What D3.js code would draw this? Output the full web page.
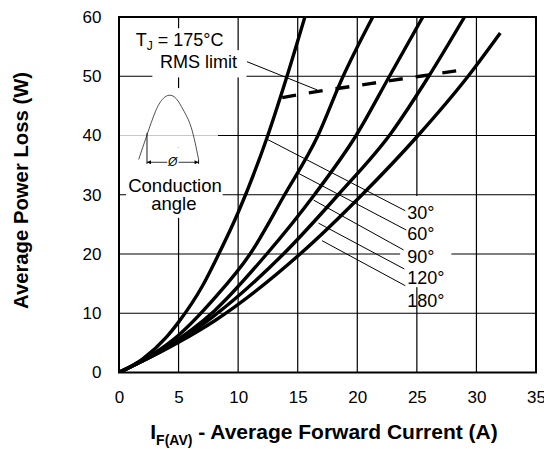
<!DOCTYPE html>
<html>
<head>
<meta charset="utf-8">
<script src="https://cdn.jsdelivr.net/npm/d3@7"></script>
<style>
  body { margin: 0; background: #fff; }
  svg { display: block; }
  text { font-family: "Liberation Sans", Arial, Helvetica, sans-serif; fill: #000; }
</style>
</head>
<body>
<svg width="544" height="449"></svg>
<script>
// ---- data ----
const xTicks = [0, 5, 10, 15, 20, 25, 30, 35];
const yTicks = [0, 10, 20, 30, 40, 50, 60];

const angleLabels = ["30°", "60°", "90°", "120°", "180°"];

const current30 = [0, 2, 4, 5, 7, 8.2, 10, 12.4, 14.1, 15.6];
const power30 = [0, 2.3, 6.0, 8.5, 14.6, 19.3, 27, 39.5, 50, 60];

const current60 = [0, 3, 5, 8, 11, 13.9, 16.7, 18.7, 21.3];
const power60 = [0, 3.3, 6.3, 12.5, 20, 30, 40, 49.5, 60];

const current90 = [0, 4, 8, 12.4, 16.4, 19.9, 22.7, 25.5];
const power90 = [0, 4.3, 10.4, 20, 30, 40, 50, 60];

const current120 = [0, 5, 8, 13.8, 18.4, 22.8, 26.0, 29.0];
const power120 = [0, 5.3, 9.6, 20, 30, 40.3, 50, 60];

const current180 = [0, 5, 8, 15.2, 20.4, 25.1, 29.3, 32];
const power180 = [0, 5.1, 8.7, 20, 30, 40, 50, 57.3];

// RMS limit (dashed)
const rmsCurrent = [13.7, 17.2, 19.6, 21.9, 24.2, 26.6, 28.9];
const rmsPower = [46.4, 47.6, 48.3, 49.0, 49.7, 50.4, 51.1];

const svgWidth = 544;
const svgHeight = 449;
const margin = { left: 119, right: 8, top: 17, bottom: 76.5 };
const chartWidth = svgWidth - margin.left - margin.right;
const chartHeight = svgHeight - margin.top - margin.bottom;

const svg = d3.select("svg");
const defs = svg.append("defs");
const chartGroup = svg
  .append("g")
  .attr("transform", `translate(${margin.left}, ${margin.top})`);

const xScaler = d3.scaleLinear().domain([0, 35]).range([0, chartWidth]);
const yScaler = d3.scaleLinear().domain([0, 60]).range([chartHeight, 0]);

// grid
const gridGroup = chartGroup.append("g");
gridGroup
  .selectAll("line.vgrid")
  .data(xTicks.slice(1, -1))
  .join("line")
  .attr("x1", (d) => xScaler(d))
  .attr("x2", (d) => xScaler(d))
  .attr("y1", 0)
  .attr("y2", chartHeight)
  .attr("stroke", "#000")
  .attr("stroke-width", 1.2);
gridGroup
  .selectAll("line.hgrid")
  .data(yTicks.slice(1, -1))
  .join("line")
  .attr("x1", 0)
  .attr("x2", chartWidth)
  .attr("y1", (d) => yScaler(d))
  .attr("y2", (d) => yScaler(d))
  .attr("stroke", "#000")
  .attr("stroke-width", 1.2);

// white boxes behind the annotations (they cut the grid like in the original)
const maskBoxes = [
  { x0: 1.1, x1: 9.3, y0: 58.1, y1: 54.4 }, // Tj
  { x0: 2.8, x1: 10.7, y0: 54.4, y1: 49.8 }, // RMS limit
  { x0: 0.6, x1: 8.3, y0: 48.0, y1: 38.0 }, // inset
  { x0: 0.6, x1: 8.7, y0: 38.0, y1: 26.1 }, // conduction angle
  { x0: 23.6, x1: 27.9, y0: 29.8, y1: 14.4 }, // angle labels
];
chartGroup
  .append("g")
  .selectAll("rect")
  .data(maskBoxes)
  .join("rect")
  .attr("x", (d) => xScaler(d.x0))
  .attr("y", (d) => yScaler(d.y0))
  .attr("width", (d) => xScaler(d.x1) - xScaler(d.x0))
  .attr("height", (d) => yScaler(d.y1) - yScaler(d.y0))
  .attr("fill", "#fff");

// the 40 W grid line shows through the inset in light grey
chartGroup
  .append("line")
  .attr("x1", 0)
  .attr("x2", xScaler(8.3))
  .attr("y1", yScaler(40))
  .attr("y2", yScaler(40))
  .attr("stroke", "#c8c8c8")
  .attr("stroke-width", 1.2);

// clip for curves
defs
  .append("clipPath")
  .attr("id", "plotClip")
  .append("rect")
  .attr("x", 0)
  .attr("y", 0)
  .attr("width", chartWidth)
  .attr("height", chartHeight);

const curveGroup = chartGroup.append("g").attr("clip-path", "url(#plotClip)");

const series = [
  [current30, power30],
  [current60, power60],
  [current90, power90],
  [current120, power120],
  [current180, power180],
];

const lineGen = d3
  .line()
  .x((d) => xScaler(d[0]))
  .y((d) => yScaler(d[1]))
  .curve(d3.curveMonotoneX);

curveGroup
  .selectAll("path.curve")
  .data(series.map(([xs, ys]) => xs.map((x, i) => [x, ys[i]])))
  .join("path")
  .attr("class", "curve")
  .attr("d", lineGen)
  .attr("fill", "none")
  .attr("stroke", "#000")
  .attr("stroke-width", 3.4)
  .attr("stroke-linejoin", "round");

curveGroup
  .append("path")
  .attr("d", lineGen(rmsCurrent.map((x, i) => [x, rmsPower[i]])))
  .attr("fill", "none")
  .attr("stroke", "#000")
  .attr("stroke-width", 3.4)
  .attr("stroke-dasharray", "14,13");

// leader lines from the angle labels to each curve
const leaderStart = [
  [12.4, 39.4],
  [15.07, 33.6],
  [16.33, 29.1],
  [16.75, 25.2],
  [17.04, 22.25],
];
const leaderEnd = [
  [24.03, 27.3],
  [24.11, 24.05],
  [23.89, 20.68],
  [23.95, 17.47],
  [24.03, 14.65],
];
const labelPower = [25.9, 22.3, 18.5, 14.9, 11.1];

chartGroup
  .append("g")
  .selectAll("line")
  .data(leaderStart)
  .join("line")
  .attr("x1", (d) => xScaler(d[0]))
  .attr("y1", (d) => yScaler(d[1]))
  .attr("x2", (d, i) => xScaler(leaderEnd[i][0]))
  .attr("y2", (d, i) => yScaler(leaderEnd[i][1]))
  .attr("stroke", "#000")
  .attr("stroke-width", 1);

chartGroup
  .append("g")
  .selectAll("text")
  .data(angleLabels)
  .join("text")
  .attr("x", xScaler(24.2))
  .attr("y", (d, i) => yScaler(labelPower[i]))
  .attr("font-size", 18)
  .text((d) => d);

// RMS limit leader
chartGroup
  .append("line")
  .attr("x1", xScaler(10.74))
  .attr("y1", yScaler(52.46))
  .attr("x2", xScaler(16.62))
  .attr("y2", yScaler(47.7))
  .attr("stroke", "#000")
  .attr("stroke-width", 1);

// Tj label
const tj = chartGroup
  .append("text")
  .attr("x", xScaler(1.4))
  .attr("y", yScaler(55.1))
  .attr("font-size", 18);
tj.append("tspan").text("T");
tj.append("tspan").attr("font-size", 12).attr("dy", 4).text("J");
tj.append("tspan").attr("dy", -4).text(" = 175°C");

chartGroup
  .append("text")
  .attr("x", xScaler(3.45))
  .attr("y", yScaler(51.45))
  .attr("font-size", 18)
  .text("RMS limit");

// conduction angle inset
const waveCurrent = [1.65, 2.35, 3.05, 3.64, 4.22, 4.81, 5.4, 6.07, 6.68];
const wavePower = [35.95, 40.1, 44.0, 46.1, 46.8, 46.2, 44.3, 41.3, 35.95];

chartGroup
  .append("path")
  .attr("d", d3.line()
    .x((d) => xScaler(d[0]))
    .y((d) => yScaler(d[1]))
    .curve(d3.curveNatural)(waveCurrent.map((x, i) => [x, wavePower[i]])))
  .attr("fill", "none")
  .attr("stroke", "#222")
  .attr("stroke-width", 0.8);

chartGroup
  .append("line")
  .attr("x1", xScaler(2.35))
  .attr("x2", xScaler(2.35))
  .attr("y1", yScaler(40.4))
  .attr("y2", yScaler(35.2))
  .attr("stroke", "#000")
  .attr("stroke-width", 0.9);
chartGroup
  .append("line")
  .attr("x1", xScaler(6.68))
  .attr("x2", xScaler(6.68))
  .attr("y1", yScaler(35.95))
  .attr("y2", yScaler(35.2))
  .attr("stroke", "#000")
  .attr("stroke-width", 0.9);

defs
  .append("marker")
  .attr("id", "arrowHead")
  .attr("viewBox", "0 0 10 10")
  .attr("refX", 10)
  .attr("refY", 5)
  .attr("markerWidth", 5)
  .attr("markerHeight", 4)
  .attr("markerUnits", "userSpaceOnUse")
  .attr("orient", "auto-start-reverse")
  .append("path")
  .attr("d", "M0,0 L10,5 L0,10 Z")
  .attr("fill", "#000");

chartGroup
  .append("line")
  .attr("x1", xScaler(2.35))
  .attr("x2", xScaler(6.68))
  .attr("y1", yScaler(35.48))
  .attr("y2", yScaler(35.48))
  .attr("stroke", "#000")
  .attr("stroke-width", 0.8)
  .attr("marker-start", "url(#arrowHead)")
  .attr("marker-end", "url(#arrowHead)");

chartGroup
  .append("rect")
  .attr("x", xScaler(4.05))
  .attr("y", yScaler(36.9))
  .attr("width", xScaler(5.0) - xScaler(4.05))
  .attr("height", yScaler(34.4) - yScaler(36.9))
  .attr("fill", "#fff");
chartGroup
  .append("text")
  .attr("x", xScaler(4.5))
  .attr("y", yScaler(34.9))
  .attr("text-anchor", "middle")
  .attr("font-size", 12)
  .attr("font-style", "italic")
  .attr("fill", "#333")
  .text("Ø");

chartGroup
  .append("text")
  .attr("x", xScaler(4.7))
  .attr("y", yScaler(30.45))
  .attr("text-anchor", "middle")
  .attr("font-size", 18.5)
  .text("Conduction");
chartGroup
  .append("text")
  .attr("x", xScaler(4.6))
  .attr("y", yScaler(27.45))
  .attr("text-anchor", "middle")
  .attr("font-size", 18.5)
  .text("angle");

// border
chartGroup
  .append("rect")
  .attr("x", 0)
  .attr("y", 0)
  .attr("width", chartWidth)
  .attr("height", chartHeight)
  .attr("fill", "none")
  .attr("stroke", "#000")
  .attr("stroke-width", 2);

// axes (labels only)
const xAxisGroup = chartGroup
  .append("g")
  .attr("transform", `translate(0, ${chartHeight})`)
  .call(d3.axisBottom(xScaler).tickValues(xTicks).tickSize(0).tickPadding(18.5));
const yAxisGroup = chartGroup
  .append("g")
  .call(d3.axisLeft(yScaler).tickValues(yTicks).tickSize(0).tickPadding(17.5));

[xAxisGroup, yAxisGroup].forEach((g) => {
  g.select(".domain").remove();
  g.selectAll("text")
    .attr("font-family", "'Liberation Sans', Arial, Helvetica, sans-serif")
    .attr("font-size", 17)
    .attr("fill", "#000");
});

// axis titles
const xTitle = svg
  .append("text")
  .attr("x", 324)
  .attr("y", 439)
  .attr("text-anchor", "middle")
  .attr("font-size", 21)
  .attr("font-weight", "bold");
xTitle.append("tspan").text("I");
xTitle.append("tspan").attr("font-size", 14).attr("dy", 5.5).text("F(AV)");
xTitle.append("tspan").attr("dy", -5.5).text(" - Average Forward Current (A)");

svg
  .append("text")
  .attr("transform", "translate(28, 190.5) rotate(-90)")
  .attr("text-anchor", "middle")
  .attr("font-size", 20.3)
  .attr("font-weight", "bold")
  .text("Average Power Loss (W)");
</script>
</body>
</html>
